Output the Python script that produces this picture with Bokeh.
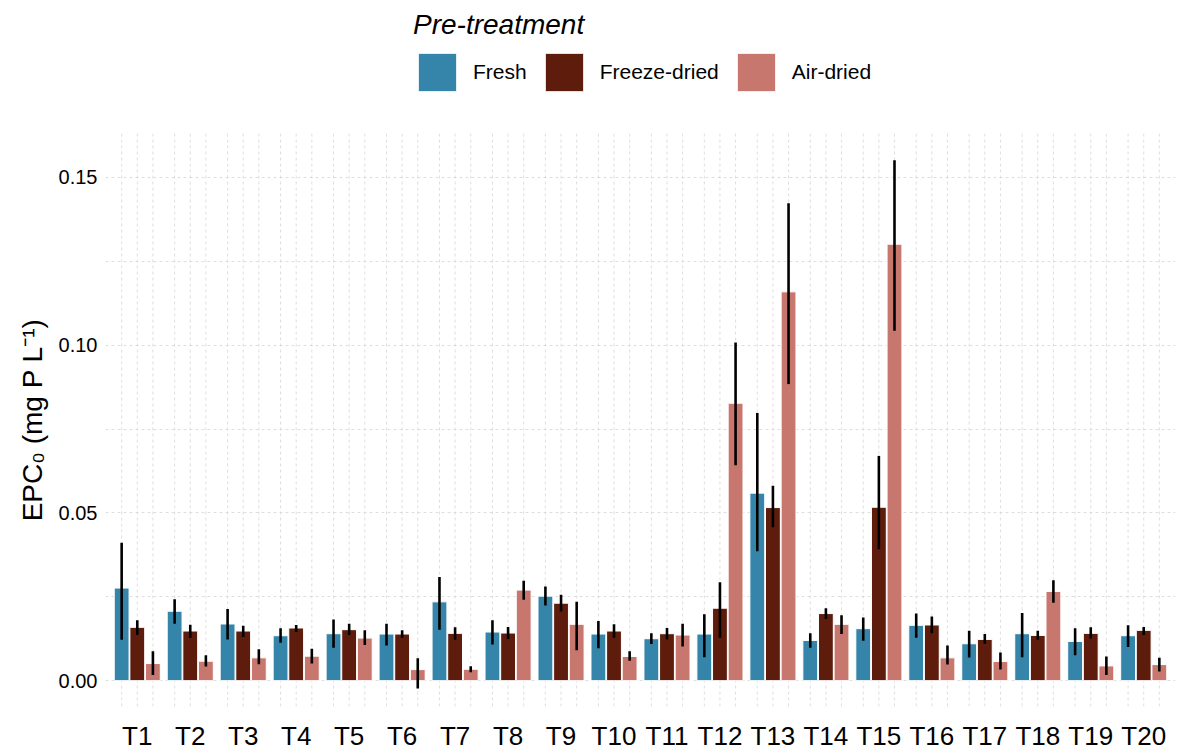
from bokeh.plotting import figure
from bokeh.layouts import column
from bokeh.models import (ColumnDataSource, FactorRange, Range1d, FixedTicker,
                          NumeralTickFormatter, Legend, LegendItem)
from bokeh.transform import dodge
from bokeh.embed import file_html
from bokeh.resources import INLINE

cats = ["T%d" % i for i in range(1, 21)]
groups = ["Fresh", "Freeze-dried", "Air-dried"]
colors = ["#3585aa", "#5e1d0c", "#c8776e"]

fresh_mean = [0.0276, 0.0207, 0.0169, 0.0134, 0.0140, 0.0139, 0.0235, 0.0145, 0.0252, 0.0139,
              0.0125, 0.0139, 0.0559, 0.0120, 0.0155, 0.0165, 0.0110, 0.0140, 0.0117, 0.0134]
fresh_lo = [0.0122, 0.0170, 0.0123, 0.0113, 0.0098, 0.0105, 0.0152, 0.0108, 0.0224, 0.0097,
            0.0109, 0.0070, 0.0386, 0.0098, 0.0119, 0.0128, 0.0069, 0.0070, 0.0076, 0.0100]
fresh_hi = [0.0411, 0.0243, 0.0214, 0.0156, 0.0182, 0.0170, 0.0309, 0.0180, 0.0281, 0.0178,
            0.0141, 0.0198, 0.0798, 0.0141, 0.0188, 0.0200, 0.0149, 0.0202, 0.0156, 0.0165]

freeze_mean = [0.0159, 0.0148, 0.0148, 0.0157, 0.0152, 0.0139, 0.0141, 0.0142, 0.0231, 0.0148,
               0.0140, 0.0216, 0.0516, 0.0200, 0.0517, 0.0166, 0.0123, 0.0135, 0.0141, 0.0150]
freeze_lo = [0.0136, 0.0127, 0.0130, 0.0145, 0.0136, 0.0127, 0.0122, 0.0124, 0.0206, 0.0128,
             0.0123, 0.0128, 0.0457, 0.0184, 0.0392, 0.0141, 0.0110, 0.0122, 0.0125, 0.0136]
freeze_hi = [0.0180, 0.0167, 0.0164, 0.0166, 0.0170, 0.0150, 0.0159, 0.0160, 0.0256, 0.0168,
             0.0157, 0.0293, 0.0581, 0.0216, 0.0670, 0.0191, 0.0139, 0.0149, 0.0159, 0.0160]

air_mean = [0.0051, 0.0058, 0.0068, 0.0073, 0.0127, 0.0033, 0.0034, 0.0270, 0.0168, 0.0072,
            0.0136, 0.0827, 0.1159, 0.0168, 0.1301, 0.0068, 0.0057, 0.0266, 0.0044, 0.0048]
air_lo = [0.0017, 0.0042, 0.0049, 0.0051, 0.0106, -0.0023, 0.0025, 0.0241, 0.0091, 0.0059,
          0.0102, 0.0642, 0.0884, 0.0139, 0.1043, 0.0048, 0.0033, 0.0232, 0.0017, 0.0027]
air_hi = [0.0088, 0.0076, 0.0094, 0.0095, 0.0150, 0.0067, 0.0043, 0.0298, 0.0235, 0.0088,
          0.0170, 0.1008, 0.1423, 0.0195, 0.1551, 0.0105, 0.0084, 0.0299, 0.0072, 0.0068]

y_ticks = [0.0, 0.05, 0.10, 0.15]
y_minor = [0.025, 0.075, 0.125]

Y0, Y1 = -0.0077, 0.1631
offsets = [-0.295, 0.0, 0.295]
TOP_H = 133

# ---- legend strip on top (frames of the column are aligned) ----
top = figure(width=1192, height=TOP_H, output_backend="svg", toolbar_location=None,
             x_range=Range1d(0, 1), y_range=Range1d(0, 1),
             x_axis_location=None, y_axis_location=None,
             min_border_left=0, min_border_right=0, min_border_top=0, min_border_bottom=0)
top.outline_line_color = None
top.xgrid.grid_line_color = None
top.ygrid.grid_line_color = None
top.border_fill_color = "white"

# zero-size key renderers (they only supply the legend swatches)
key_src = ColumnDataSource(dict(x=[0.0], t=[0.0]))
items = []
for col, name in zip(colors, groups):
    r = top.vbar(x="x", top="t", bottom=0, width=0, source=key_src,
                 fill_color=col, line_color="white", line_width=1)
    items.append(LegendItem(label=name, renderers=[r]))

legend = Legend(items=items, location=(308, 37), orientation="horizontal",
                title="Pre-treatment", title_text_font_style="italic",
                title_text_font_size="28px", title_text_font="Liberation Sans",
                title_text_color="black", title_standoff=7,
                label_text_font_size="21px", label_text_font="Liberation Sans",
                label_text_color="black",
                glyph_width=48, glyph_height=48, label_standoff=12, spacing=13,
                padding=0, margin=0, border_line_color=None, background_fill_alpha=0)
top.add_layout(legend)

# ---- main plot ----
p = figure(width=1192, height=753 - TOP_H, output_backend="svg", toolbar_location=None,
           x_range=FactorRange(*cats, range_padding=0.01),
           y_range=Range1d(Y0, Y1),
           min_border_left=105, min_border_right=17, min_border_top=0,
           min_border_bottom=40)
p.outline_line_color = None
p.background_fill_color = "white"
p.border_fill_color = "white"

p.xgrid.grid_line_color = None
p.yaxis.ticker = FixedTicker(ticks=y_ticks, minor_ticks=y_minor)
p.ygrid.grid_line_color = "#d6d6d6"
p.ygrid.grid_line_dash = "3 3"
p.ygrid.grid_line_width = 0.8
p.ygrid.minor_grid_line_color = "#d6d6d6"
p.ygrid.minor_grid_line_dash = "3 3"
p.ygrid.minor_grid_line_width = 0.8

grid_src = ColumnDataSource(dict(cat=cats, y0=[Y0] * len(cats), y1=[Y1] * len(cats)))
for off in offsets:
    p.segment(x0=dodge("cat", off, range=p.x_range), x1=dodge("cat", off, range=p.x_range),
              y0="y0", y1="y1", source=grid_src, line_color="#d6d6d6",
              line_dash="3 3", line_width=0.8, level="underlay")

series = [(fresh_mean, fresh_lo, fresh_hi), (freeze_mean, freeze_lo, freeze_hi),
          (air_mean, air_lo, air_hi)]
for (m, lo, hi), off, col in zip(series, offsets, colors):
    src = ColumnDataSource(dict(cat=cats, top=m, lo=lo, hi=hi))
    p.vbar(x=dodge("cat", off, range=p.x_range), top="top", bottom=0, width=0.28,
           source=src, fill_color=col, line_color="white", line_width=1)
    p.segment(x0=dodge("cat", off, range=p.x_range), x1=dodge("cat", off, range=p.x_range),
              y0="lo", y1="hi", source=src, line_color="black", line_width=2.6)

for ax in (p.xaxis[0], p.yaxis[0]):
    ax.axis_line_color = None
    ax.major_tick_line_color = None
    ax.minor_tick_line_color = None
    ax.major_label_text_color = "black"
    ax.major_label_text_font = "Liberation Sans"

p.xaxis.major_label_text_font_size = "26px"
p.xaxis.major_label_standoff = 8
p.yaxis.major_label_text_font_size = "20px"
p.yaxis.major_label_standoff = 2
p.yaxis.formatter = NumeralTickFormatter(format="0.00")
p.yaxis.axis_label = "EPC\u2080 (mg P L\u207b\u00b9)"
p.yaxis.axis_label_text_font = "Liberation Sans"
p.yaxis.axis_label_text_font_size = "28px"
p.yaxis.axis_label_text_font_style = "normal"
p.yaxis.axis_label_text_color = "black"
p.yaxis.axis_label_standoff = 8

layout = column(top, p, spacing=0)
open("out.html", "w").write(file_html(layout, INLINE))
